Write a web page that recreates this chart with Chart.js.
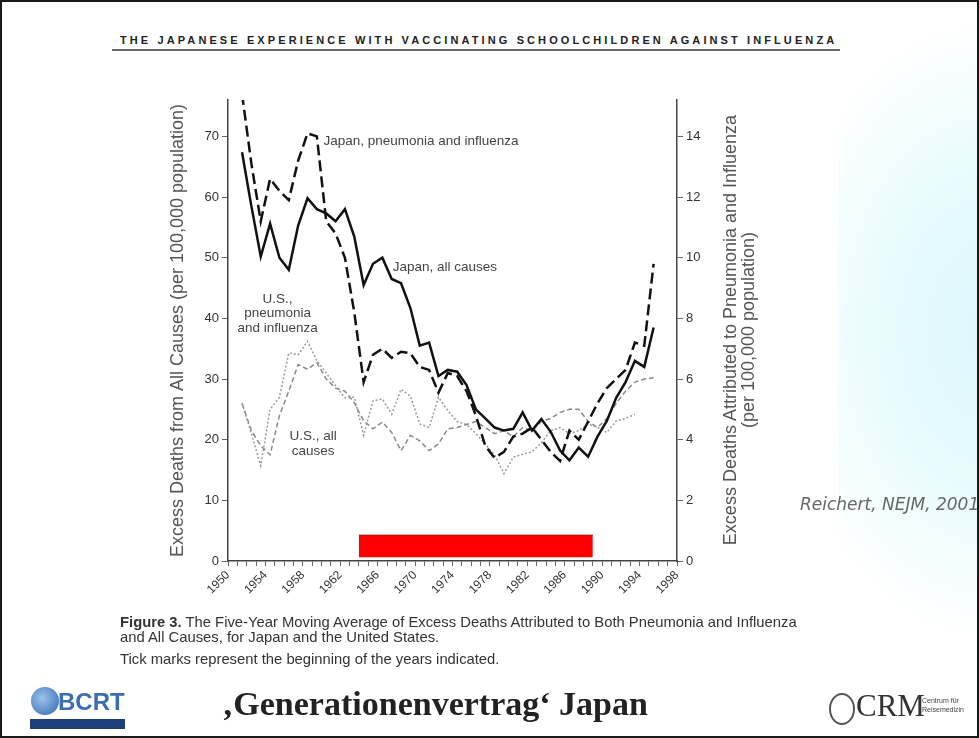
<!DOCTYPE html>
<html>
<head>
<meta charset="utf-8">
<script src="https://cdn.jsdelivr.net/npm/chart.js@4.4.0/dist/chart.umd.min.js"></script>
<style>
  html, body { margin: 0; padding: 0; }
  body { width: 979px; height: 738px; position: relative; overflow: hidden; background: #fff;
         font-family: "Liberation Sans", Arial, sans-serif; }
  #glow { position: absolute; left: 838px; top: 0; width: 141px; height: 738px;
          background: radial-gradient(ellipse 210px 310px at 150px 330px, #dcf8fb 0%, #e9fbfd 55%, #ffffff 100%); }
  #frame { position: absolute; left: 0; top: 0; width: 975px; height: 734px; border: 2px solid #1a1a1a; }
  #chart { position: absolute; left: 0; top: 0; }
  .txt { position: absolute; white-space: nowrap; }
  #head { left: 120px; top: 34px; font-size: 11px; font-weight: bold; color: #222; letter-spacing: 3.1px; }
  #rule { position: absolute; left: 112px; top: 49px; width: 728px; height: 2px; background: #666; }
  #rtitle { left: 489px; top: 312px; width: 500px; height: 36px; line-height: 18px; font-size: 18px; color: #555;
            text-align: center; transform: rotate(-90deg); }
  .cap { left: 120px; font-size: 14.8px; color: #333; }
  #ref { left: 800px; top: 494px; font-family: "DejaVu Sans", sans-serif; font-style: italic; font-size: 17px; color: #666; }
  #foot { left: 222px; top: 685px; font-family: "Liberation Serif", serif; font-weight: bold; font-size: 34px; color: #222; }
  #bcrt-globe { position: absolute; left: 31px; top: 687px; width: 28px; height: 28px; border-radius: 50%;
                background: radial-gradient(circle at 40% 40%, #9cc3ec, #2f64ad); }
  #bcrt { left: 58px; top: 688px; font-family: "Liberation Sans Narrow", sans-serif; font-weight: bold; font-size: 24px; color: #3b6db2; }
  #bcrt-bar { position: absolute; left: 30px; top: 719px; width: 95px; height: 10px; background: #1f3f7a; }
  #crm-seal { position: absolute; left: 829px; top: 693px; width: 22px; height: 28px; border-radius: 50%; border: 2px solid #555; }
  #crm { left: 856px; top: 688px; font-family: "Liberation Serif", serif; font-size: 31px; color: #333; }
  #crm-sub { left: 922px; top: 696px; font-size: 7px; line-height: 9px; color: #444; }
</style>
</head>
<body>
<div id="glow"></div>
<div class="txt" id="head">THE JAPANESE EXPERIENCE WITH VACCINATING SCHOOLCHILDREN AGAINST INFLUENZA</div>
<div id="rule"></div>
<canvas id="chart" width="979" height="738"></canvas>
<div class="txt" id="rtitle">Excess Deaths Attributed to Pneumonia and Influenza<br>(per 100,000 population)</div>
<div class="txt cap" style="top:614px"><b>Figure 3.</b> The Five-Year Moving Average of Excess Deaths Attributed to Both Pneumonia and Influenza</div>
<div class="txt cap" style="top:629px">and All Causes, for Japan and the United States.</div>
<div class="txt cap" style="top:651px">Tick marks represent the beginning of the years indicated.</div>
<div class="txt" id="ref">Reichert, NEJM, 2001</div>
<div id="bcrt-globe"></div>
<div class="txt" id="bcrt">BCRT</div>
<div id="bcrt-bar"></div>
<div class="txt" id="foot">‚Generationenvertrag‘ Japan</div>
<div id="crm-seal"></div>
<div class="txt" id="crm">CRM</div>
<div class="txt" id="crm-sub">Centrum für<br>Reisemedizin</div>
<div id="frame"></div>

<script>
// mid-year positions of the five-year moving averages
var years = [1951.5, 1952.5, 1953.5, 1954.5, 1955.5, 1956.5, 1957.5, 1958.5, 1959.5, 1960.5,
             1961.5, 1962.5, 1963.5, 1964.5, 1965.5, 1966.5, 1967.5, 1968.5, 1969.5, 1970.5,
             1971.5, 1972.5, 1973.5, 1974.5, 1975.5, 1976.5, 1977.5, 1978.5, 1979.5, 1980.5,
             1981.5, 1982.5, 1983.5, 1984.5, 1985.5, 1986.5, 1987.5, 1988.5, 1989.5, 1990.5,
             1991.5, 1992.5, 1993.5, 1994.5, 1995.5];

// left axis: all causes
var japanAll = [67.4, 58.5, 50.2, 55.6, 50, 48, 55.3, 59.8, 58, 57.3,
                56, 58, 53.5, 45.5, 49, 50, 46.5, 45.8, 41.7, 35.5,
                36, 30.5, 31.5, 31.2, 29, 25, 23.5, 22, 21.5, 21.8,
                24.5, 21.5, 23.4, 21.3, 18.2, 16.6, 18.7, 17.2, 20.5, 23.1,
                26.9, 29.5, 33, 32, 38.5];
var usAll = [26, 21.5, 19, 17.5, 24, 28, 32.4, 31.6, 32.7, 30,
             28.5, 28, 26.1, 23.1, 21.8, 22.9, 21.2, 18.2, 20.7, 19.8,
             18.2, 19.3, 21.8, 22, 22.5, 23, 22, 21, 21.5, 20.5,
             22, 21.5, 23, 23.5, 24.5, 25, 25, 23, 22, 23.5,
             26, 28, 29.5, 30, 30.2];

// right axis: pneumonia and influenza
var japanPI = [15.4, 13.1, 11.2, 12.6, 12.2, 11.9, 13.2, 14.1, 14.0, 11.2,
               10.8, 10.0, 8.2, 5.9, 6.8, 7.0, 6.7, 6.9, 6.85, 6.4,
               6.3, 5.55, 6.2, 6.1, 5.6, 4.8, 3.8, 3.4, 3.6, 4.1,
               4.2, 4.4, 4.0, 3.6, 3.3, 4.3, 4.0, 4.6, 5.2, 5.7,
               6.0, 6.3, 7.2, 7.1, 9.8];
var usPI = [5.2, 4.2, 3.14, 5.0, 5.4, 6.86, 6.8, 7.24, 6.6, 6.2,
            5.78, 5.38, 5.4, 4.14, 5.28, 5.34, 4.84, 5.66, 5.44, 4.52,
            4.4, 5.4, 4.96, 4.6, 4.5, 4.2, 3.86, 3.5, 2.88, 3.42,
            3.52, 3.6, 3.9, 4.3, 4.4, 4.2, 4.3, 4.52, 4.4, 4.24,
            4.62, 4.7, 4.84, null, null];

// vaccination period bar (years, left-axis units)
var barYears = [1964, 1989];
var barLow = 0.6;
var barHigh = 4.26;

var xTickFirst = 1950, xTickLast = 1998, xLabelEvery = 4;

// in-chart labels, placed in data units (x year, y left axis)
var noteText = [["Japan, pneumonia and influenza"], ["Japan, all causes"],
                ["U.S.,", "pneumonia", "and influenza"], ["U.S., all", "causes"]];
var noteX = [1960.2, 1967.6, 1955.3, 1959.1];
var noteY = [69.2, 48.5, 40.8, 19.3];
var noteAlign = ["left", "left", "center", "center"];

function pts(vals) {
  return years.map(function (x, i) { return { x: x, y: vals[i] }; });
}

var notesPlugin = {
  id: "notes",
  afterDatasetsDraw: function (chart) {
    var ctx = chart.ctx, xs = chart.scales.x, ys = chart.scales.y;
    ctx.save();
    ctx.font = "13.5px 'Liberation Sans', Arial, sans-serif";
    ctx.fillStyle = "#444";
    ctx.textBaseline = "middle";
    for (var i = 0; i < noteText.length; i++) {
      var px = xs.getPixelForValue(noteX[i]);
      var py = ys.getPixelForValue(noteY[i]);
      var lines = noteText[i];
      ctx.textAlign = noteAlign[i];
      for (var j = 0; j < lines.length; j++) {
        ctx.fillText(lines[j], px, py + (j - (lines.length - 1) / 2) * 14.5);
      }
    }
    ctx.restore();
  }
};

var tickFont = { family: "'Liberation Sans', Arial, sans-serif", size: 13 };

new Chart("chart", {
  type: "line",
  data: {
    datasets: [
      { label: "vaccination", data: barYears.map(function (x) { return { x: x, y: barHigh }; }),
        yAxisID: "y", backgroundColor: "#ff0000", borderColor: "#9a0000", borderWidth: 1,
        fill: { value: barLow }, pointRadius: 0, order: 5 },
      { label: "U.S., all causes", data: pts(usAll), yAxisID: "y",
        borderColor: "#8a8a8a", borderWidth: 1.5, borderDash: [5, 3], pointRadius: 0, order: 4 },
      { label: "U.S., pneumonia and influenza", data: pts(usPI), yAxisID: "y2",
        borderColor: "#9a9a9a", borderWidth: 1.5, borderDash: [2, 2], pointRadius: 0, order: 3 },
      { label: "Japan, pneumonia and influenza", data: pts(japanPI), yAxisID: "y2",
        borderColor: "#111", borderWidth: 2.5, borderDash: [11, 5], pointRadius: 0, order: 2 },
      { label: "Japan, all causes", data: pts(japanAll), yAxisID: "y",
        borderColor: "#111", borderWidth: 2.5, pointRadius: 0, order: 1 }
    ]
  },
  options: {
    responsive: false,
    animation: false,
    layout: { padding: { left: 165, right: 262, top: 100, bottom: 137 } },
    plugins: { legend: { display: false }, tooltip: { enabled: false } },
    elements: { line: { tension: 0 } },
    scales: {
      x: {
        type: "linear", min: xTickFirst, max: xTickLast,
        afterFit: function (s) { s.height = 40; },
        border: { color: "#444", width: 1.5 },
        grid: { drawOnChartArea: false, tickLength: 5, color: "#666" },
        ticks: {
          stepSize: 1, autoSkip: false, minRotation: 45, maxRotation: 45,
          color: "#333", font: { family: "'Liberation Sans', Arial, sans-serif", size: 12 }, padding: 2,
          callback: function (v) { return (v - xTickFirst) % xLabelEvery === 0 ? String(v) : ""; }
        }
      },
      y: {
        position: "left", min: 0, max: 76,
        afterFit: function (s) { s.width = 63; },
        afterBuildTicks: function (s) { s.ticks = s.ticks.filter(function (t) { return t.value % 10 === 0; }); },
        border: { color: "#444", width: 1.5 },
        grid: { drawOnChartArea: false, tickLength: 6, color: "#666" },
        ticks: { stepSize: 10, color: "#333", font: tickFont, padding: 3 },
        title: { display: true, text: "Excess Deaths from All Causes (per 100,000 population)",
                 color: "#555", font: { family: "'Liberation Sans', Arial, sans-serif", size: 18 }, padding: { top: 2 } }
      },
      y2: {
        position: "right", min: 0, max: 15.2,
        afterFit: function (s) { s.width = 40; },
        afterBuildTicks: function (s) { s.ticks = s.ticks.filter(function (t) { return t.value % 2 === 0; }); },
        border: { color: "#444", width: 1.5 },
        grid: { drawOnChartArea: false, tickLength: 6, color: "#666" },
        ticks: { stepSize: 2, color: "#333", font: tickFont, padding: 3 }
      }
    }
  },
  plugins: [notesPlugin]
});
</script>
</body>
</html>
